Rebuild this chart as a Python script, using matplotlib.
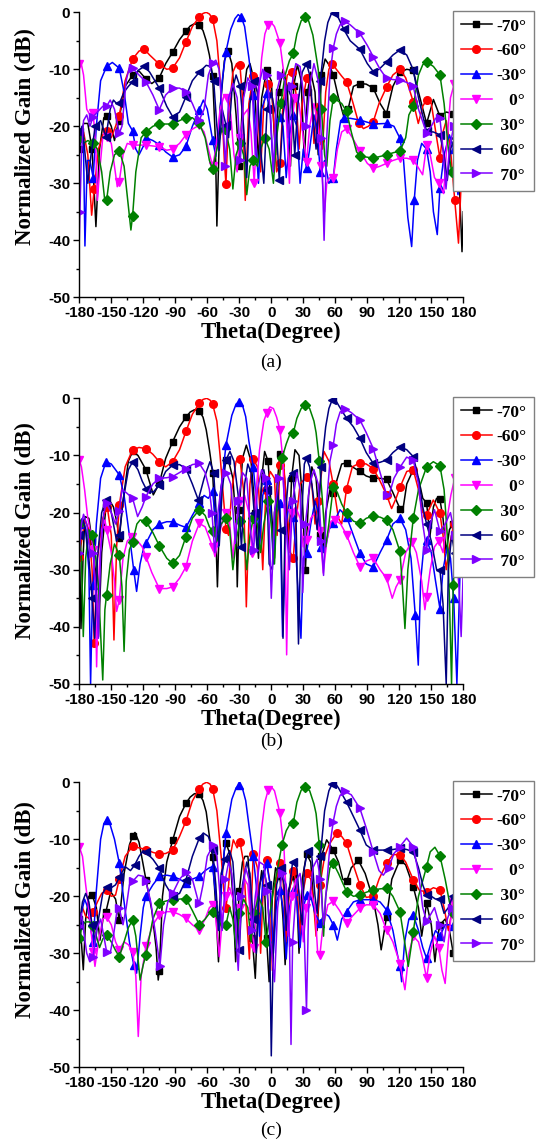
import numpy as np
import matplotlib
matplotlib.use('Agg')
import matplotlib.pyplot as plt
from matplotlib.ticker import MultipleLocator
from matplotlib.font_manager import FontProperties

plt.rcParams['axes.unicode_minus'] = False
plt.rcParams['font.family'] = 'Liberation Sans'

LABELS = ['-70°', '-60°', '-30°', '   0°', ' 30°', ' 60°', ' 70°']
COLORS = ['#000000', '#ff0000', '#0000ff', '#ff00ff', '#008000', '#000080', '#8000ff']
MARKERS = ['s', 'o', '^', 'v', 'D', '<', '>']
MSIZE = [5, 5.5, 6, 6, 5, 6, 6]

# ---- panel (a): (theta deg, normalized gain dB) ----
A_M70 = [(-180,-24),(-176,-19.5),(-172,-19.5),(-168,-24),(-164.4,-37.6),(-161,-24),(-157,-18.5),(-154.4,-18.2),(-150,-20),(-147,-22.5),(-143,-19),(-137,-13),(-130,-11),(-124,-10.3),(-117.5,-11.7),(-112,-12.5),(-105,-11.5),(-99,-9),(-92.5,-7),(-86,-4.8),(-80,-3.3),(-76,-2.4),(-72,-2),(-67.5,-2.3),(-64,-3.2),(-61,-5),(-58,-7.5),(-55,-11.2),(-52.5,-22),(-51,-37.5),(-48,-17),(-44,-8.5),(-40.5,-6.8),(-37,-9),(-33,-18),(-30,-27),(-27,-16),(-23,-10),(-20,-9),(-16,-12),(-12,-26),(-9,-15),(-4.4,-10.2),(0,-12),(4,-25),(7,-14),(11,-10),(15,-13),(18,-27),(21,-13),(24.5,-9.2),(28,-12),(31,-26),(34,-14),(37,-10.5),(41,-14),(44,-25),(47,-11),(50.5,-8.2),(55,-9.5),(58.1,-11),(63,-15),(68,-18.3),(72,-17),(77,-13),(83,-12.5),(89,-12.6),(95.6,-13.3),(102,-16),(108,-17.8),(114,-13),(120.6,-10.5),(127,-10),(133,-10.2),(138,-14),(145.6,-19.5),(152,-15.3),(158,-18.2),(164,-17.5),(170.6,-17.8),(175,-24),(178.8,-42),(180,-35)]
A_M60 = [(-180,-21),(-176,-21),(-172,-25),(-168.4,-35.6),(-166,-31),(-162,-24),(-158,-21.5),(-154.4,-20.8),(-150,-22),(-146,-20),(-142.5,-18.2),(-137,-12),(-130,-8.2),(-124,-6.8),(-119,-6.5),(-114,-7.5),(-105,-9.1),(-98,-10),(-92.5,-9.8),(-86,-8),(-80,-5.2),(-74,-2.5),(-67.5,-0.8),(-64,-0.2),(-61,0),(-58,-0.3),(-55,-1.1),(-51,-5),(-47,-14),(-44,-26),(-42.5,-30.1),(-40,-18),(-36,-10.5),(-32.5,-9),(-29.4,-9.2),(-27,-15),(-24.4,-33),(-21,-16),(-16.9,-11.2),(-13,-14),(-10,-28),(-7,-16),(-3,-12.5),(1,-15),(5,-28),(8.1,-26.5),(11,-16),(15,-11),(19,-10.5),(23,-14),(26,-24),(29,-16),(33.1,-11.6),(37,-13),(40,-23),(43,-16),(45.6,-22.4),(48,-24),(51,-14),(54,-10),(57,-9),(61,-10),(66,-11.2),(70.6,-12.2),(76,-15.5),(82,-19.5),(86.4,-20.4),(91,-20),(95.6,-19.2),(101,-16),(108.1,-13.1),(114,-11),(120.6,-10),(126,-11.5),(133.1,-15.7),(137.8,-19.5),(142,-16.5),(145.6,-15.3),(150,-16),(155,-22),(158.1,-25.6),(161,-21),(164,-19),(168,-24),(172,-33),(175.5,-40.5),(178,-30),(180,-27)]
A_M30 = [(-180,-22),(-177.5,-20),(-176,-24),(-174.7,-41),(-172.5,-26),(-170,-26),(-167,-29),(-164,-20),(-160,-12),(-154.4,-9.5),(-149,-8.8),(-142.5,-9.8),(-138,-14),(-134,-19.5),(-130,-20.8),(-127,-24),(-124,-25),(-120,-23.5),(-117.5,-22),(-111,-22.5),(-105,-23.2),(-99,-24.5),(-92.5,-25.4),(-86,-25),(-80,-23.5),(-74,-20),(-67.5,-17.1),(-63.7,-15.4),(-60,-17),(-55,-22.4),(-52,-25.3),(-49,-20),(-46,-12),(-42.5,-6.9),(-38,-3),(-34,-1.1),(-31,-0.4),(-28,-0.9),(-25,-2.5),(-21,-8),(-16.9,-14.5),(-14,-24),(-12,-30),(-9,-17),(-4.4,-14.2),(-1,-18),(2,-28),(5,-20),(8.1,-18.3),(11,-20),(14,-29),(17,-22),(20,-18),(24,-20),(27,-30),(30,-24),(33.1,-27.4),(36,-24),(40,-18),(43,-21),(46,-28),(50,-26),(54,-30),(58.1,-29.1),(61,-24),(65,-19),(68,-18.6),(74,-18.6),(83.1,-18.9),(95.6,-19.6),(108.1,-19.5),(115,-20),(120.6,-22.1),(124,-26),(128,-36),(131.6,-41.1),(134,-33),(137,-26),(141,-23),(145.6,-24),(149,-28),(152,-35),(155.6,-39),(158.1,-30.9),(162,-25),(167,-21.5),(171,-24),(175,-32),(178,-27),(180,-24)]
A_0 = [(-180,-9),(-178.7,-8.5),(-176,-11),(-173,-17),(-170,-18),(-166.9,-17.7),(-164.5,-24),(-163,-33),(-161,-28),(-158,-22),(-154.4,-21.8),(-150,-23),(-147,-27),(-144.4,-30.6),(-142.5,-29.7),(-139,-25),(-135,-23),(-130,-23.3),(-117.5,-23.3),(-105,-23.6),(-98,-24.2),(-92.5,-24),(-86,-23),(-80,-21.5),(-74,-20.5),(-67.5,-19.8),(-63,-21),(-59,-24),(-55,-27),(-52,-24),(-48,-17),(-44,-14.5),(-41.6,-15),(-38,-18),(-35,-25),(-32,-28),(-29.4,-22),(-26,-18),(-22,-17),(-19,-21),(-16,-30),(-13,-18),(-9,-8),(-6,-3.8),(-3,-2.2),(0,-1.8),(3,-2.5),(8.1,-5.4),(12,-11),(15,-22),(17,-30),(19,-20),(22,-15),(26,-16),(30,-22),(33.1,-26.2),(36,-20),(40,-16),(44,-20),(47,-27),(50,-35),(52,-30),(55,-29),(58.1,-29.1),(62,-24),(66,-21),(70.6,-20.4),(76,-22),(83.1,-24.4),(90,-26.5),(95.6,-27.4),(102,-27),(108.1,-26.5),(114,-26),(120.6,-25.6),(127,-25.6),(133.1,-25.9),(137,-27),(141.9,-28.5),(145.6,-23.3),(149,-25),(153,-29),(157,-30),(161.6,-31.8),(165,-22),(168,-15),(171.6,-12.5),(175,-11),(180,-12)]
A_30 = [(-180,-22),(-176,-23),(-172,-22.5),(-167.5,-22.9),(-163,-24),(-159,-28),(-156,-33.2),(-154.4,-33),(-151,-28),(-147,-25),(-142.5,-24.3),(-138,-27),(-134,-34),(-131.6,-38.2),(-130,-35.7),(-127,-28),(-122,-22),(-117.5,-21),(-111,-20),(-105,-19.6),(-92.5,-19.6),(-86,-19),(-80,-18.5),(-74,-18.5),(-67.5,-19.5),(-62,-22),(-58,-26),(-55,-27.5),(-51,-24),(-47,-21),(-43,-20.5),(-39,-24),(-36,-31),(-33,-25),(-29.4,-23),(-26,-25),(-23,-32),(-20,-27),(-16.9,-26),(-13,-27),(-10,-24),(-6,-22),(-2,-24),(2,-30),(5,-22),(9,-16),(13,-11),(17,-8.5),(20.6,-7.2),(24,-3.8),(28,-1.5),(31.6,-0.9),(35,-1.5),(39,-4),(44,-10),(47,-17),(50,-25),(52,-27),(55,-19),(58.1,-15.1),(62,-15.5),(66,-16),(70.6,-17.4),(75,-21),(80,-24.5),(83.1,-25.2),(95.6,-25.6),(108.1,-25),(115,-24.6),(120.6,-24.4),(126,-22),(129,-18),(133.1,-16.5),(138,-11),(142,-9.2),(145.6,-8.7),(152,-9.5),(158.1,-11),(162,-16),(166,-24),(169,-28),(173,-26),(177,-23),(180,-25)]
A_60 = [(-180,-21),(-177,-20),(-175,-24),(-172,-30),(-169,-25),(-165,-20),(-160,-19),(-155,-21.8),(-151,-17),(-148,-15.4),(-145,-16),(-142.5,-16),(-138,-14),(-134,-13),(-130,-12.2),(-125,-10.2),(-119,-9.5),(-114,-10.5),(-105,-13.3),(-98,-16.5),(-92.5,-18.3),(-86,-17.5),(-80,-14.8),(-74,-12),(-67.5,-10.5),(-61,-9.3),(-57,-9.5),(-54,-12),(-51,-20),(-48.8,-24.2),(-46,-17),(-42.5,-19.8),(-40,-22),(-37,-14),(-33,-11),(-29.4,-13),(-26,-20),(-23,-29),(-20,-16),(-16.5,-12),(-13,-14),(-10,-24),(-7,-30),(-4,-17),(0,-14),(4,-18),(7.5,-29.5),(11,-18),(15,-13),(19,-15),(22,-25),(25,-16),(29,-10.5),(33,-9),(36,-11),(40,-20),(42,-24),(46,-12),(50,-5),(53,-1.8),(56,-0.4),(59,-0.1),(63,-1),(68,-3),(74,-5),(83.1,-6.5),(90,-9),(95.6,-10.4),(101,-10),(108.1,-8.7),(114,-7.5),(120.6,-6.6),(127,-7.5),(133.1,-10.1),(138,-15),(145.6,-20.9),(152,-21),(158.1,-21.5),(162,-25),(165,-29.5),(168,-24),(172,-22),(176,-27),(180,-25)]
A_70 = [(-180,-40),(-179.4,-35),(-178,-25),(-176,-19),(-173,-18),(-170,-20),(-167,-18.3),(-163,-17.5),(-158,-16.5),(-154.4,-16.5),(-151,-15.4),(-147,-17),(-142.5,-21.2),(-140,-20),(-136,-12),(-132.5,-9.2),(-130,-9.8),(-124,-11),(-117.5,-12.2),(-111,-14.5),(-105,-17.1),(-99,-14.5),(-92.5,-13.3),(-86,-13.3),(-80,-13.9),(-74,-16),(-67.5,-18.9),(-63,-17),(-59,-11),(-55,-8.9),(-52,-8.4),(-49,-10),(-46,-17),(-43,-27),(-40,-15),(-36,-12.5),(-32,-15),(-29,-26),(-26,-15),(-22,-11.5),(-18,-13),(-15,-25),(-12,-13),(-8,-10),(-4.4,-11),(-1,-17),(2,-28),(5,-14),(9,-11),(13,-12),(16,-22),(19,-13),(23,-9),(27,-9.5),(30,-14),(33,-20),(36,-13),(40,-9),(44,-12),(47,-22),(49.5,-40),(52,-22),(55,-11),(58.1,-6.3),(61,-3.8),(64.5,-2.2),(68.8,-1.6),(74,-2.2),(83.1,-3.7),(90,-5.8),(95.6,-7.8),(102,-10),(108.1,-11.6),(114,-11.8),(120.6,-11.9),(127,-12.3),(133.1,-13),(138,-17),(145.6,-21.2),(150,-20),(154,-18.6),(158.1,-18.6),(161,-24),(163.8,-31),(167,-24),(171,-20),(175,-22),(178,-30),(180,-28)]

# ---- panel (b) ----
B_M70 = [(-180,-24),(-178.4,-40.3),(-176.5,-28),(-174.7,-20.7),(-171,-21),(-168,-25),(-165,-30),(-162,-41.7),(-159,-27),(-155,-19),(-151.9,-17.8),(-148,-19),(-145,-21.5),(-142.5,-24.5),(-139,-18),(-134,-11),(-130,-9.3),(-125,-10),(-117.5,-12.5),(-110.6,-16.9),(-105,-14.9),(-99,-10.5),(-92.5,-7.6),(-86,-5),(-80,-3.3),(-76,-2.4),(-72,-2),(-67.5,-2.2),(-64,-3.3),(-61,-5.5),(-58,-9),(-55,-13),(-52,-24),(-50.5,-33),(-48,-17),(-44,-11.5),(-42.5,-10.8),(-40,-11),(-36,-14),(-33,-22),(-31.9,-33),(-30,-19.5),(-27,-10.5),(-23.4,-8.2),(-19,-11),(-15,-20),(-12,-28),(-9,-14),(-6.25,-9.3),(-3,-11),(1,-22),(3,-28),(5.5,-15),(8.1,-9.7),(11,-10.5),(14,-18),(16.5,-27),(19,-14),(22.2,-9),(26,-10),(29,-17),(32,-30),(35,-17),(38,-12),(42,-14),(46,-24),(48.5,-27),(51,-20),(55,-16),(58.1,-16.6),(62,-14),(66,-11.5),(70.6,-11.3),(76,-12),(83.1,-12.8),(89,-13.6),(95.6,-14),(102,-14),(108.1,-14.2),(114,-16.5),(120.6,-19.3),(123,-20),(127,-15),(133.1,-12.5),(138,-14),(142,-17.5),(145.6,-18.3),(148.7,-24.2),(152,-19),(155,-17.5),(158.1,-17.7),(161,-21),(164,-27),(167,-23),(170,-22),(174,-28),(177,-25),(180,-30)]
B_M60 = [(-180,-27.7),(-177,-24),(-174.7,-21.3),(-171,-23),(-168,-30),(-166,-42.9),(-163,-28),(-158,-21),(-153.75,-19),(-150,-24),(-147.5,-42.3),(-145,-26),(-142.5,-18.7),(-137,-12),(-130,-9),(-124,-8.6),(-117.5,-8.8),(-111,-9.8),(-105,-11.1),(-99,-12),(-92.5,-11.1),(-86,-9),(-80,-5.8),(-74,-2.8),(-67.5,-0.9),(-64,-0.2),(-60.6,0),(-57.5,-0.3),(-55,-1),(-51,-4),(-48,-10),(-45,-17),(-42.5,-22.8),(-40,-24),(-37,-16),(-33,-11),(-29.4,-10.6),(-26,-16),(-23.4,-36.5),(-20,-15),(-16.9,-10.6),(-13,-12),(-10,-22),(-8,-30),(-5,-16),(-1,-12.8),(3,-14),(5.5,-24),(8.1,-11.7),(12,-12.5),(15,-20),(18,-27),(20.6,-28),(23,-22),(27,-15),(33.1,-13.7),(38,-15),(41,-22),(44,-18),(49.4,-9.3),(54,-11),(58,-15),(63,-21),(66,-22),(70.6,-15.8),(76,-12),(83.1,-11.3),(89,-11.5),(95.6,-12.3),(102,-14.5),(108.1,-16.9),(112.8,-19.3),(117,-17.5),(120.6,-15.6),(127,-12.8),(133.1,-12.5),(138,-16),(142,-20),(145.6,-20.4),(151.9,-17.8),(158.1,-20.1),(161,-24),(164,-30),(167,-26),(171,-22),(175,-26),(180,-24)]
B_M30 = [(-180,-22),(-177,-21),(-174,-23),(-171,-30),(-169.4,-50),(-167.5,-33),(-166.9,-32.7),(-164,-22),(-160,-14),(-155,-11.1),(-150,-11.5),(-146,-12.5),(-142.5,-13.4),(-138,-17),(-133,-24),(-129,-30),(-126.25,-33.8),(-123,-29),(-120,-26.5),(-117.5,-25.4),(-111,-23),(-105,-22),(-98,-21.6),(-92.5,-21.6),(-86,-22.2),(-80,-22.6),(-74,-20.5),(-67.5,-18.4),(-63,-17),(-59,-17.5),(-55,-16.3),(-52,-22),(-50,-26),(-47,-16),(-42.5,-8.2),(-37,-3),(-33,-1),(-30,-0.6),(-27,-1.2),(-24,-3.2),(-21,-7.5),(-16.9,-12),(-13,-20),(-11,-26),(-8,-17),(-4.4,-14.3),(-1,-18),(2,-29),(5,-20),(8.1,-18.4),(10.6,-41.7),(14,-22),(17,-18),(20.6,-20.7),(23,-27),(27.8,-42),(30,-28),(33.1,-27.1),(37,-22),(41,-18),(44,-20),(47,-26),(50,-27.1),(54,-23),(58.1,-21.9),(64.4,-19.5),(70.6,-20.7),(77,-24),(83.1,-27.1),(89,-29),(95.6,-29.5),(102,-27),(108.1,-24.8),(114,-22),(120.6,-21),(126,-23),(131,-28),(135,-38),(137.8,-46.7),(140,-32),(143,-26),(145.6,-24.8),(150,-27),(154,-32),(158.1,-36.8),(161,-30),(165,-26),(168,-28),(171,-35),(174,-50),(177,-30),(180,-25)]
B_0 = [(-180,-10.8),(-178,-12),(-175,-16),(-172,-21),(-169,-24),(-167,-26.5),(-165,-33),(-163.75,-47),(-162,-32),(-159,-23),(-156,-21.3),(-154.4,-23),(-150,-27),(-147,-32),(-145,-37.3),(-142.5,-35.3),(-139,-28),(-135,-25),(-131,-24.2),(-126,-24.8),(-121,-26),(-117.5,-27.7),(-112,-30.5),(-105,-33.3),(-98,-33.3),(-92.5,-33),(-86,-31.5),(-80,-29.5),(-74,-25),(-67.5,-21.9),(-62,-22.5),(-58,-24.5),(-55,-26),(-52.8,-27.7),(-49,-24),(-45,-21),(-42.5,-20.1),(-39,-22),(-36,-28),(-33,-22),(-29,-18),(-25,-17),(-21,-20),(-18,-27),(-15,-18),(-11,-9),(-7,-4),(-4.4,-2.6),(-1.25,-1.5),(2,-1.8),(5,-3.3),(8.1,-5.5),(11,-11),(13,-25),(14.4,-44.9),(16,-28),(19,-20),(23,-19),(27,-21),(30,-26),(33.1,-24.8),(37,-21),(41,-20),(45.6,-23.3),(48.75,-30.6),(52,-25),(56,-21.5),(59.7,-21.3),(65,-22),(70.6,-23.9),(77,-27),(83.1,-29.5),(89,-28.5),(95.6,-28),(102,-30),(108.1,-31.5),(113.4,-35),(117,-33),(120.6,-31.8),(126,-27),(131.6,-25.1),(136,-27),(141,-32),(144,-37),(145.6,-34.7),(149,-30),(153,-26),(157,-25),(161,-27),(164,-22),(168.4,-16.9),(172,-14),(176,-15),(180,-18)]
B_30 = [(-180,-22),(-178,-28),(-176.25,-41.7),(-174,-28),(-171,-23),(-168,-24),(-165,-27),(-162,-33),(-158,-49.3),(-156,-37),(-154.4,-34.4),(-151,-29),(-147,-25.5),(-142.5,-27.4),(-140,-33),(-138,-44.3),(-136,-32),(-133,-26.5),(-130,-25.1),(-126,-22),(-123,-21.3),(-117.5,-21.5),(-111,-23.5),(-105,-25.8),(-98,-28),(-92.5,-28.9),(-86,-27.5),(-80,-24.2),(-74,-21),(-67.5,-19.5),(-62,-20.5),(-58,-22.5),(-55,-23.3),(-51,-25),(-47,-22),(-42.5,-21),(-39,-23),(-36,-30),(-33,-25),(-29.4,-21.5),(-26,-23),(-23,-30),(-20,-24),(-16.9,-21),(-13,-22),(-10,-27),(-7,-22),(-3,-18),(0,-22),(3,-29),(6,-16),(10,-10.5),(14,-8),(17,-6.5),(20.6,-6.1),(24,-3.5),(28,-1.8),(32,-1.1),(36,-1.8),(40,-4),(42,-6),(45,-11),(48,-18),(51,-26),(54,-22),(58.1,-15.5),(62,-16.5),(66,-18.5),(70.6,-20.1),(77,-21.5),(83.1,-21.9),(89,-21),(95.6,-20.6),(102,-20.8),(108.1,-21.3),(114,-23),(120.6,-26.8),(123,-33),(125.3,-40.3),(128,-30),(133.1,-21),(138,-16),(145.6,-12),(151.9,-11.1),(158.1,-11.8),(162,-16),(165,-24),(167,-35),(169,-50),(170.6,-32.7),(173,-26),(177,-24),(180,-28)]
B_60 = [(-180,-24),(-177,-21),(-174,-23),(-171,-28),(-168,-35),(-165.5,-42),(-163,-28),(-159,-20),(-155,-17.8),(-151,-19),(-148,-22),(-145,-25),(-142.5,-24),(-139,-18),(-134,-12.5),(-130,-11.1),(-125,-12.5),(-121,-14.5),(-117.5,-15.8),(-111,-16.5),(-105,-15.2),(-99,-12.8),(-92.5,-11.7),(-86,-11.6),(-80,-12.3),(-74,-15),(-68.4,-17.8),(-63,-14),(-57.5,-11.1),(-54,-13),(-51,-22),(-48.8,-25.8),(-46,-16),(-42.5,-10.8),(-38.75,-9.3),(-35,-11),(-31,-17),(-28,-26),(-25,-15),(-22,-11.5),(-19,-13),(-16,-20),(-13,-27),(-10,-17),(-7,-12.5),(-4,-16),(-2,-29),(1,-30),(3,-20),(6,-16),(9,-23),(11,-42),(13,-21),(16,-14),(20,-13),(23,-19),(25.5,-43),(28,-22),(31,-11.5),(33,-10.5),(36,-12),(40,-18),(43,-23),(47,-12),(51,-5),(54,-1.8),(57,-0.3),(60,-0.2),(63,-1.2),(70.6,-3.5),(77,-5),(83.1,-7),(89,-9.5),(95.6,-11.4),(102,-11.2),(108.1,-10.8),(114,-9.5),(120.6,-8.5),(127,-9),(133.1,-10.2),(138,-14),(142,-19),(145.6,-22),(150,-25),(155,-30),(158.1,-30),(161,-36),(164,-50),(166,-30),(169,-24),(172,-27),(176,-26),(180,-28)]
B_70 = [(-180,-27.1),(-178,-22),(-176,-20.3),(-173,-22),(-170,-27),(-167,-27.1),(-164,-35),(-162,-42),(-160,-27),(-157,-20),(-154.4,-18.4),(-150,-20),(-146,-22),(-142.5,-19.8),(-140,-16),(-136,-16.5),(-130,-17.5),(-125.3,-20.7),(-121,-19),(-117.5,-17.2),(-111,-15),(-105,-14),(-98,-13.9),(-92.5,-13.7),(-86,-13),(-80,-12.3),(-74,-11.6),(-67.5,-11.4),(-62,-13),(-58,-16),(-55.6,-20),(-53,-27),(-50,-20),(-46,-14),(-42,-13),(-38,-15),(-35,-22),(-33.75,-25.4),(-31,-18),(-27,-13),(-23,-14),(-19,-24),(-16.5,-26.5),(-13,-16),(-9,-12.5),(-5,-14),(-2,-22),(0,-35),(3,-20),(7,-14),(11,-14),(14,-22),(17,-30),(20,-18),(24,-13),(27,-16),(29.5,-34),(32,-22),(36,-15),(40,-12.5),(44,-15),(47,-25),(49,-31),(52,-18),(55,-11),(58.1,-8.2),(61,-4.5),(64.5,-2.4),(68.8,-1.8),(75,-2.5),(83.1,-3.8),(89,-6),(95.6,-8.8),(102,-13),(108.1,-16.9),(110,-17.2),(115,-14),(120.6,-12.1),(126.9,-10.3),(133.1,-10.8),(138,-15),(142,-22),(145.6,-26.5),(149,-22),(153,-19.5),(158.1,-23.3),(163,-22),(168,-20),(172,-24),(176,-33),(178,-41.7),(180,-30)]

# ---- panel (c) ----
C_M70 = [(-180,-24),(-178,-28),(-176.25,-32.9),(-174,-24),(-171,-20),(-167.8,-19.8),(-164,-22),(-160.6,-27.7),(-157,-23),(-155,-22.7),(-150.6,-19.2),(-146,-20.5),(-142.5,-24.2),(-138,-16),(-133,-11),(-130,-9.4),(-127.8,-8.8),(-124,-10.5),(-117.5,-17.1),(-112,-22.5),(-108,-29),(-106,-34.7),(-105,-33.2),(-102,-20),(-98,-14),(-92.5,-10.2),(-86,-6),(-80,-3.7),(-76,-2.6),(-72,-2),(-67.5,-2.1),(-64,-3.2),(-61,-5.2),(-58,-9.5),(-55,-13.2),(-52,-22),(-49.5,-31.5),(-47,-18),(-44,-12),(-42.5,-10.6),(-39,-12.5),(-36,-20),(-33.4,-31.5),(-30,-19),(-27,-14),(-24.7,-13),(-21.9,-13),(-19.5,-20),(-17.8,-27.4),(-15,-34.4),(-12,-20),(-9,-15.5),(-6,-20),(-4.4,-27.4),(-2,-35),(1,-20),(4,-15),(8.1,-16.5),(11,-24),(13,-32),(16,-19),(20.6,-16.5),(24,-20),(26,-30),(29,-17),(33.1,-12.6),(37,-14),(40,-22),(43,-26),(47,-13),(51.9,-10.1),(58.1,-11.9),(63,-14),(67,-17),(70.6,-17.4),(75,-15),(81.6,-13.7),(88,-16),(95.6,-20.6),(100,-25),(103,-29.4),(106,-26),(108.1,-23.6),(113,-17),(120.6,-13.6),(126,-14.5),(133.1,-18.3),(138,-22),(141,-27),(145.6,-21.2),(150,-25),(153.4,-31.5),(156,-27),(158.1,-25),(163,-24),(167,-26),(170.6,-30),(174,-26),(177,-24),(180,-27)]
C_M60 = [(-180,-25),(-177,-22),(-174,-23.5),(-170,-24),(-167,-22.7),(-163,-21),(-159,-19.5),(-154.4,-18.9),(-150,-20),(-146,-19.8),(-142.5,-17),(-137,-13),(-130,-11.2),(-124,-11.5),(-117.5,-11.8),(-111,-12.3),(-105,-12.6),(-99,-12.5),(-92.5,-11.9),(-86,-9.5),(-80,-6.8),(-74,-3.3),(-67.5,-1.1),(-64,-0.3),(-60.6,0),(-57.5,-0.3),(-55,-1.1),(-51,-5),(-47,-13),(-44,-20),(-42.5,-22.1),(-40,-18),(-38,-12.5),(-35.6,-10.1),(-32,-11.5),(-29.4,-10.4),(-26,-14),(-23,-24),(-20.5,-31),(-18,-18),(-16.9,-12.5),(-13,-15),(-10,-30),(-7,-16),(-4.4,-13.6),(-1,-18),(1,-33),(4,-18),(8.1,-14.2),(11,-17),(14,-28),(17,-19),(20.6,-15.5),(24,-18),(27,-27),(30,-19),(33.1,-16),(37,-17),(40,-22),(42,-27),(45.6,-18),(50,-13),(54,-11),(61.25,-8.9),(66,-9.5),(70.6,-10.7),(76,-14),(83.1,-18),(89,-20.2),(95.6,-20),(101,-17),(108.1,-14.2),(114,-12.7),(120.6,-12.7),(126,-14),(133.1,-17.1),(139,-19),(145.6,-19.2),(152,-18.5),(158.1,-18.9),(162,-22),(166,-26),(170,-22),(174,-25),(178,-28),(180,-26)]
C_M30 = [(-180,-27),(-178,-23),(-175,-20.5),(-172,-22),(-169,-26),(-167,-28),(-164,-19),(-160,-10),(-157,-7.3),(-154.4,-6.6),(-151,-7.5),(-147,-10),(-142.5,-14.2),(-138,-21),(-133,-28),(-129,-32),(-126.25,-33.5),(-123,-27),(-120,-22),(-117.5,-20),(-111,-18),(-105,-16.5),(-98,-16.3),(-92.5,-16.5),(-86,-17),(-80,-17.7),(-74,-17),(-67.5,-16.5),(-62,-15.5),(-58,-15),(-55,-14.8),(-52,-20),(-49,-26),(-46,-16),(-42.5,-8.9),(-37,-3),(-33,-1),(-30,-0.5),(-27,-1.1),(-24,-3.2),(-21,-7.5),(-16.9,-13),(-13,-20),(-11,-27),(-8,-17),(-4.4,-14.2),(-1,-18),(2,-30),(5,-21),(8.1,-18.9),(11,-22),(14,-31),(17,-22),(20.6,-19),(24,-21),(27,-29),(30,-22),(33.1,-19.8),(37,-20),(41,-23),(45.6,-24.7),(50,-23),(54,-23.5),(58.1,-25),(61.9,-27.7),(66,-24),(70.6,-22.7),(77,-21),(83.1,-20.6),(95.6,-20.6),(102,-21),(108.1,-22.4),(114,-26),(118,-30),(120.6,-32.3),(122.2,-35),(125,-28),(129,-24),(133.1,-23.3),(138,-26),(142,-29),(145.6,-30.9),(150,-28),(154,-26),(158.1,-27),(163,-25),(167,-25),(170.6,-25.3),(174,-28),(177,-26),(180,-28)]
C_0 = [(-180,-11.3),(-177,-13),(-174,-18),(-171,-22.4),(-167,-29.7),(-165.3,-32.3),(-162,-28),(-158,-24),(-154.4,-23.6),(-150,-25),(-146,-28),(-142.5,-29.4),(-138,-28),(-134,-28.5),(-130,-29.7),(-127,-34),(-124.7,-44.6),(-122,-34),(-117.5,-28.8),(-111,-25),(-105,-23.3),(-98,-22.7),(-92.5,-22.7),(-86,-23.2),(-80,-23.9),(-74,-25),(-67.5,-25.9),(-62,-24),(-58,-22),(-55,-21.5),(-52,-24),(-48.75,-30.6),(-46,-24),(-42.5,-20),(-39,-18.5),(-35,-21),(-32,-28),(-29,-22),(-25,-17),(-22,-18),(-19,-25),(-16,-29),(-13,-17),(-9,-8),(-6,-3.5),(-3,-1.4),(0,-0.8),(3,-1.5),(8.1,-5.4),(12,-12),(14,-20),(16,-27),(19,-20),(23,-17),(27,-20),(30,-28),(33,-22),(37,-19),(41,-22),(43.5,-30),(45.6,-30.3),(48,-26),(53,-21.5),(58.1,-20.9),(64,-22.5),(70.6,-24.7),(76,-23.5),(83.1,-22.1),(89,-21.5),(95.6,-21.5),(102,-23),(108.1,-25.9),(114,-28),(120.6,-31.8),(125.3,-36.4),(129,-30),(133.1,-27),(138,-28),(142,-31),(145.6,-34.4),(149,-30),(153,-27),(157,-29),(160,-33),(163,-35.3),(166,-28),(170,-21),(174,-20),(177,-22),(180,-24)]
C_30 = [(-180,-27.4),(-177,-25),(-174,-24.5),(-170,-24.5),(-167,-25.3),(-164,-27),(-161,-29),(-158,-27.5),(-154.4,-26.8),(-150,-28),(-146,-29.5),(-142.5,-30.6),(-138,-28),(-134,-25.5),(-130,-24.2),(-127,-27),(-123,-34.7),(-120,-32),(-117.5,-30.3),(-111,-24),(-105,-21.2),(-98,-20.8),(-92.5,-20.6),(-86,-20.5),(-80,-20.4),(-74,-22.5),(-67.5,-25),(-62,-24),(-58,-23),(-55,-22.7),(-50,-24),(-46,-25.5),(-42.5,-25),(-39,-22),(-36,-24),(-33,-29),(-30,-23),(-26,-20.5),(-22,-22),(-19,-28),(-16,-23),(-12,-20),(-8,-22),(-5,-28),(-2,-24),(2,-19),(6,-15),(10,-11),(14,-8.5),(17,-7.5),(20.6,-7.2),(24,-3.5),(28,-1.4),(32,-0.8),(36,-1.5),(40,-3.8),(42,-5.5),(45,-11),(47,-18),(49,-27),(51,-20),(55,-15),(58.1,-14.2),(63,-16),(70.6,-19.2),(77,-20),(83.1,-19.8),(89,-19.3),(95.6,-18.9),(102,-18.7),(108.1,-18.6),(114,-20),(120.6,-22.7),(125,-28),(128.4,-32.3),(131,-29),(133.1,-26.2),(138,-20),(145.6,-14.8),(149,-12.2),(153.4,-11.4),(158.1,-12.9),(163,-17),(167,-21),(170.6,-23),(174,-25),(177,-24),(180,-26)]
C_60 = [(-180,-25),(-177,-21),(-174,-19.5),(-171,-21),(-168,-25),(-165,-28),(-162,-24),(-158,-19.5),(-154.4,-18.3),(-150,-18.5),(-146,-18),(-142.5,-16.7),(-137,-14.8),(-132,-15.5),(-128,-14.5),(-124,-13),(-120,-12),(-117.5,-12.3),(-111,-13.5),(-105,-15.1),(-99,-18),(-92.5,-20),(-86,-19.5),(-80,-17.1),(-74,-13),(-67.5,-9.8),(-63.75,-8.9),(-59,-9.5),(-55,-11.9),(-52,-18),(-49.5,-26),(-47,-16),(-43,-13.5),(-39,-12),(-36,-14),(-33,-22),(-30,-29.5),(-27,-18),(-23,-14),(-20,-16),(-17,-24),(-14,-30),(-11,-18),(-7,-15.5),(-4,-18),(-1.5,-27),(0,-48),(2,-28),(5,-18),(9,-15),(12,-18),(14,-26),(16,-20),(20,-14),(24,-15),(27,-22),(29,-25),(31,-15),(34,-12),(38,-13),(41,-20),(43,-23),(46,-13),(50,-5),(54,-1.5),(57,-0.3),(60,-0.2),(63,-1),(70.6,-3.5),(77,-6),(83.1,-8.4),(89,-11),(95.6,-11.9),(102,-11.9),(108.1,-11.9),(114,-11.8),(120.6,-11.6),(127,-11.8),(133.1,-12.2),(138,-15),(142,-18),(145.6,-19.8),(150,-20),(154,-20.5),(158.1,-20.4),(162,-23),(166,-22),(170,-20),(173,-23),(177,-26),(180,-25)]
C_70 = [(-180,-25.3),(-178,-23),(-176,-26),(-173,-30),(-170,-31.5),(-167,-30.6),(-164,-26),(-160,-24),(-157,-27),(-154.4,-29.7),(-151,-30),(-148,-27),(-145,-23),(-142.5,-22.1),(-139,-25),(-136,-22),(-133,-18),(-130,-17.4),(-124.7,-16.3),(-120,-16.5),(-117.5,-17.4),(-113,-21),(-109,-26),(-106,-30),(-104.4,-32.3),(-101,-25),(-97,-21),(-92.5,-19.5),(-86,-17),(-80,-15.8),(-74,-17),(-69,-20.5),(-67.5,-21.2),(-64,-18),(-60,-13),(-54.4,-11),(-51,-13),(-48,-20),(-46,-26),(-43,-17),(-40,-14),(-37,-16),(-34,-24),(-31,-33),(-28,-20),(-24,-15),(-21,-17),(-18,-26),(-15,-20),(-11,-14),(-7,-14.5),(-4,-19),(-1,-27),(3,-35),(6,-22),(10,-16),(14,-18),(17,-27),(18.5,-46),(20,-28),(24,-17),(27,-16),(30,-21),(33,-40),(35,-22),(39,-15),(43,-13.5),(46,-17),(49,-25),(52,-18),(55,-11),(58.1,-6.9),(61,-4.2),(64.5,-2.3),(68.8,-1.6),(75,-2.2),(83.1,-4.6),(89,-8),(95.6,-12.2),(101,-15.5),(105,-16.3),(110,-15),(115,-12.5),(120.6,-11.3),(126.9,-9.8),(133.1,-11.3),(138,-16),(142,-22),(145.6,-24.4),(150,-23),(153,-22),(156,-24),(158.1,-25),(162,-28),(165,-24),(169,-22),(173,-26),(177,-31),(180,-30)]

PANELS = [
    ('(a)', [A_M70, A_M60, A_M30, A_0, A_30, A_60, A_70]),
    ('(b)', [B_M70, B_M60, B_M30, B_0, B_30, B_60, B_70]),
    ('(c)', [C_M70, C_M60, C_M30, C_0, C_30, C_60, C_70]),
]

AX_BOTTOM = [0.739, 0.3995, 0.063]
AX_HEIGHT = [0.2502, 0.2508, 0.2502]
YLAB_Y = [0.564, 0.537, 0.552]
TAG_Y = [-0.227, -0.202, -0.22]
MARK_AT = np.arange(-179.4, 180, 12.5)

serif_b = FontProperties(family='Liberation Serif', weight='bold', size=16.5)
leg_font = FontProperties(family='Liberation Serif', weight='bold', size=12.5)

fig = plt.figure(figsize=(5.43, 11.39), dpi=100)

for p, (tag, series) in enumerate(PANELS):
    ax = fig.add_axes([0.146, AX_BOTTOM[p], 0.7072, AX_HEIGHT[p]])
    for k, pts in enumerate(series):
        t, g = np.array(pts).T
        idx = sorted(set(int(np.abs(t - m).argmin()) for m in MARK_AT))
        ax.plot(t, g, color=COLORS[k], lw=1.1, marker=MARKERS[k], ms=MSIZE[k],
                markevery=idx, label=LABELS[k], zorder=2 + k * 0.01)

    ax.set_xlim(-180, 180)
    ax.set_ylim(-50, 0)
    ax.xaxis.set_major_locator(MultipleLocator(30))
    ax.xaxis.set_minor_locator(MultipleLocator(15))
    ax.yaxis.set_major_locator(MultipleLocator(10))
    ax.yaxis.set_minor_locator(MultipleLocator(5))
    ax.tick_params(which='both', direction='out', width=1.0, labelsize=11, pad=2)
    ax.tick_params(which='major', length=4.5)
    ax.tick_params(which='minor', length=2.5)
    for lab in ax.get_xticklabels() + ax.get_yticklabels():
        lab.set_fontweight('bold')
    for s in ('top', 'right'):
        ax.spines[s].set_visible(False)
    for s in ('left', 'bottom'):
        ax.spines[s].set_linewidth(1.0)

    ax.set_ylabel('Normalized Gain (dB)', fontproperties=serif_b, va='center')
    ax.yaxis.set_label_coords(-0.139, YLAB_Y[p])
    ax.set_xlabel('Theta(Degree)', fontproperties=serif_b, va='center')
    ax.xaxis.set_label_coords(0.5, -0.125)
    ax.text(0.5, TAG_Y[p], tag, transform=ax.transAxes, ha='center', va='center',
            family='Liberation Serif', fontsize=14)

    leg = ax.legend(loc='upper left', bbox_to_anchor=(0.973, 1.006), borderaxespad=0,
                    fancybox=False, edgecolor='#808080', framealpha=1, prop=leg_font,
                    handlelength=1.8, handletextpad=0.25, labelspacing=0.5,
                    borderpad=0.45, numpoints=1)
    leg.get_frame().set_linewidth(1.0)

fig.savefig('out.png', dpi=100)
